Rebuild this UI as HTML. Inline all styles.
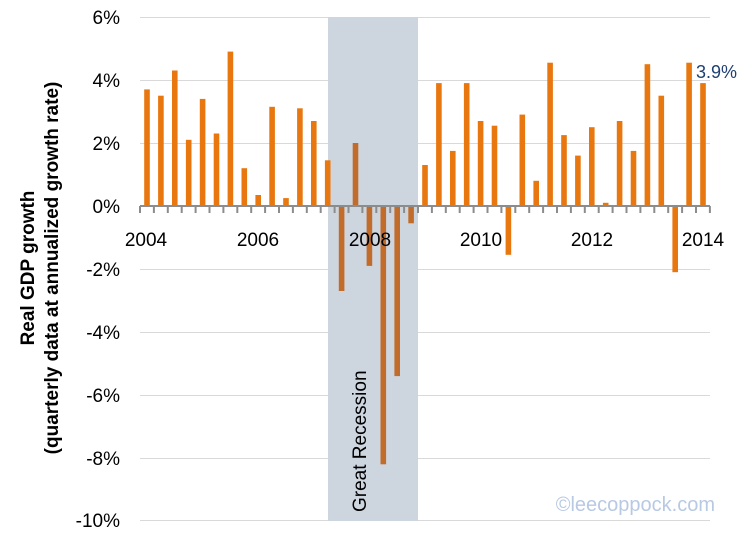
<!DOCTYPE html><html><head><style>body{margin:0;background:#fff}</style></head><body>
<svg width="751" height="534" xmlns="http://www.w3.org/2000/svg" font-family="Liberation Sans, sans-serif">
<g stroke="#d9d9d9" stroke-width="1">
<line x1="140" x2="710" y1="17.5" y2="17.5"/><line x1="140" x2="710" y1="80.5" y2="80.5"/><line x1="140" x2="710" y1="143.5" y2="143.5"/><line x1="140" x2="710" y1="269.5" y2="269.5"/><line x1="140" x2="710" y1="332.5" y2="332.5"/><line x1="140" x2="710" y1="395.5" y2="395.5"/><line x1="140" x2="710" y1="458.5" y2="458.5"/><line x1="140" x2="710" y1="520.5" y2="520.5"/>
</g>
<rect x="328" y="17" width="90" height="504" fill="#cdd5df"/>
<g fill="#e8770f">
<rect x="144.2" y="89.4" width="5.6" height="116.6"/>
<rect x="158.1" y="95.7" width="5.6" height="110.3"/>
<rect x="172.0" y="70.5" width="5.6" height="135.5"/>
<rect x="185.9" y="139.8" width="5.6" height="66.2"/>
<rect x="199.8" y="98.9" width="5.6" height="107.1"/>
<rect x="213.7" y="133.5" width="5.6" height="72.5"/>
<rect x="227.6" y="51.6" width="5.6" height="154.4"/>
<rect x="241.5" y="168.2" width="5.6" height="37.8"/>
<rect x="255.4" y="195" width="5.6" height="11"/>
<rect x="269.3" y="106.8" width="5.6" height="99.2"/>
<rect x="283.2" y="198.1" width="5.6" height="7.9"/>
<rect x="297.1" y="108.3" width="5.6" height="97.7"/>
<rect x="311.0" y="121" width="5.6" height="85"/>
<rect x="324.9" y="160.3" width="5.6" height="45.7"/>
<rect x="422.2" y="165" width="5.6" height="41"/>
<rect x="436.1" y="83.1" width="5.6" height="122.9"/>
<rect x="450.0" y="150.9" width="5.6" height="55.1"/>
<rect x="463.9" y="83.1" width="5.6" height="122.9"/>
<rect x="477.8" y="121" width="5.6" height="85"/>
<rect x="491.7" y="125.7" width="5.6" height="80.3"/>
<rect x="505.6" y="206" width="5.6" height="48.8"/>
<rect x="519.5" y="114.6" width="5.6" height="91.4"/>
<rect x="533.4" y="180.8" width="5.6" height="25.2"/>
<rect x="547.3" y="62.7" width="5.6" height="143.3"/>
<rect x="561.2" y="135.1" width="5.6" height="70.9"/>
<rect x="575.1" y="155.6" width="5.6" height="50.4"/>
<rect x="589.0" y="127.2" width="5.6" height="78.8"/>
<rect x="602.9" y="202.8" width="5.6" height="3.2"/>
<rect x="616.8" y="121" width="5.6" height="85"/>
<rect x="630.7" y="150.9" width="5.6" height="55.1"/>
<rect x="644.6" y="64.2" width="5.6" height="141.8"/>
<rect x="658.5" y="95.7" width="5.6" height="110.3"/>
<rect x="672.4" y="206" width="5.6" height="66.2"/>
<rect x="686.3" y="62.7" width="5.6" height="143.3"/>
<rect x="700.2" y="83.1" width="5.6" height="122.9"/>
</g>
<g fill="#c26c2c">
<rect x="338.8" y="206" width="5.6" height="85"/>
<rect x="352.7" y="143" width="5.6" height="63"/>
<rect x="366.6" y="206" width="5.6" height="59.9"/>
<rect x="380.5" y="206" width="5.6" height="258.3"/>
<rect x="394.4" y="206" width="5.6" height="170.1"/>
<rect x="408.3" y="206" width="5.6" height="17.3"/>
</g>
<line x1="140" x2="710" y1="206" y2="206" stroke="#8c8c8c" stroke-width="2"/>
<line x1="139" x2="712" y1="209.5" y2="209.5" stroke="#8c8c8c" stroke-width="7" stroke-dasharray="2,11.9"/>
<g font-size="19" fill="#000" text-anchor="end">
<text x="120" y="24">6%</text><text x="120" y="87">4%</text><text x="120" y="150">2%</text><text x="120" y="213">0%</text><text x="120" y="276">-2%</text><text x="120" y="339">-4%</text><text x="120" y="402">-6%</text><text x="120" y="465">-8%</text><text x="120" y="527">-10%</text>
</g>
<g font-size="19" text-anchor="middle"><text x="146" y="246">2004</text><text x="258" y="246">2006</text><text x="370" y="246">2008</text><text x="481" y="246">2010</text><text x="592" y="246">2012</text><text x="703" y="246">2014</text></g>
<text transform="translate(366,512) rotate(-90)" font-size="19">Great Recession</text>
<text x="696" y="78" font-size="18" fill="#1f3f73">3.9%</text>
<text x="715" y="511" font-size="20" fill="#b8c9e4" text-anchor="end">©leecoppock.com</text>
<g font-size="19" font-weight="bold" text-anchor="middle">
<text transform="translate(34,268) rotate(-90)">Real GDP growth</text>
<text transform="translate(58,268) rotate(-90)">(quarterly data at annualized growth rate)</text>
</g>
</svg></body></html>
